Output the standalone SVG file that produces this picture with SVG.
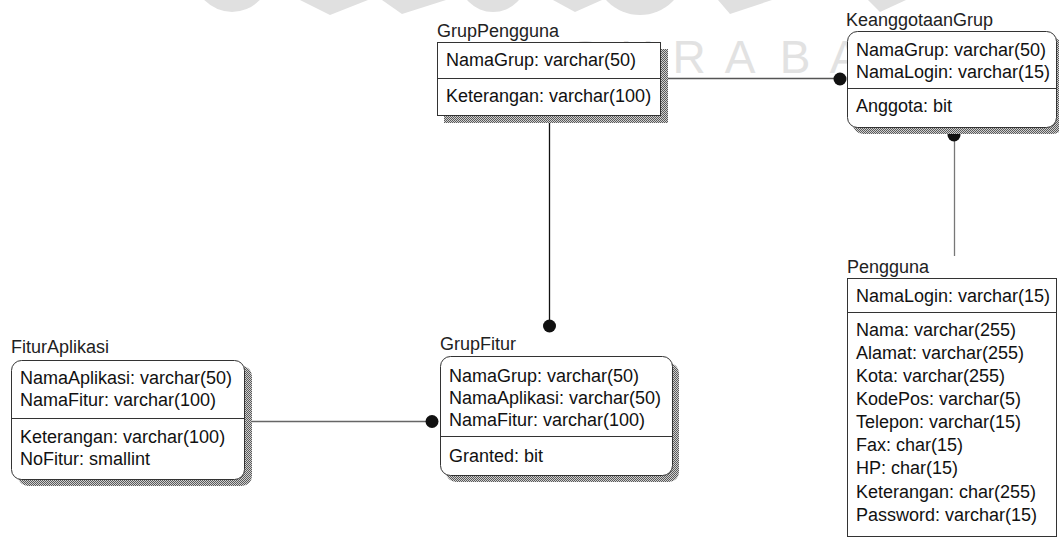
<svg xmlns="http://www.w3.org/2000/svg" width="1059" height="538" viewBox="0 0 1059 538">
<defs>
<pattern id="dither" width="2" height="2" patternUnits="userSpaceOnUse">
<rect width="2" height="2" fill="#d0d0d0"/>
<rect width="1" height="1" fill="#5a5a5a"/>
<rect x="1" y="1" width="1" height="1" fill="#5a5a5a"/>
</pattern>
</defs>
<style>
text{font-family:"Liberation Sans",Arial,sans-serif;font-size:18px;fill:#111}
.title{fill:#222}
.box{fill:#fff;stroke:#333;stroke-width:1}
.shadow{fill:url(#dither)}
.div{stroke:#333;stroke-width:1}
.wm{font-family:"Liberation Sans",Arial,sans-serif;font-size:46px;fill:#e2e2e2;text-anchor:middle}
.wms{fill:#e0e0e0}
.conn{fill:none;stroke-width:1.3}
.dot{fill:#111}
</style>
<rect width="1059" height="538" fill="#fff"/>
<g id="watermark">
<circle class="wms" cx="232" cy="-26" r="38"/>
<polygon class="wms" points="300,0 368,0 330,15"/>
<polygon class="wms" points="382,0 446,0 402,14"/>
<circle class="wms" cx="493" cy="-22" r="34"/>
<polygon class="wms" points="553,0 602,0 575,12"/>
<circle class="wms" cx="640" cy="-31" r="46"/>
<polygon class="wms" points="718,0 772,0 730,14"/>
<polygon class="wms" points="868,0 906,0 880,12"/>
<text class="wm" x="585" y="73">S</text>
<text class="wm" x="637" y="73">U</text>
<text class="wm" x="689" y="73">R</text>
<text class="wm" x="740" y="73">A</text>
<text class="wm" x="795" y="73">B</text>
<text class="wm" x="845" y="73">A</text>
<text class="wm" x="897" y="73">Y</text>
<text class="wm" x="950" y="73">A</text>
</g>
<g id="connectors">
<line class="conn" x1="661" y1="78.5" x2="839" y2="78.5" stroke="#555"/>
<circle class="dot" cx="840" cy="79" r="6.5"/>
<line class="conn" x1="549.5" y1="116" x2="549.5" y2="326" stroke="#111"/>
<circle class="dot" cx="549.5" cy="326" r="6.5"/>
<line class="conn" x1="954.5" y1="135" x2="954.5" y2="256" stroke="#777"/>
<circle class="dot" cx="954" cy="135" r="6.5"/>
<line class="conn" x1="244" y1="421.5" x2="432" y2="421.5" stroke="#666"/>
<circle class="dot" cx="432" cy="421.5" r="6.5"/>
</g>
<g id="GrupPengguna">
<text class="title" x="437" y="37">GrupPengguna</text>
<rect class="shadow" x="444" y="49" width="224" height="74"/>
<rect class="box" x="437.5" y="42.5" width="223" height="73"/>
<line class="div" x1="437.5" y1="78.5" x2="660.5" y2="78.5"/>
<text x="446" y="66">NamaGrup: varchar(50)</text>
<text x="446" y="102">Keterangan: varchar(100)</text>
</g>
<g id="KeanggotaanGrup">
<text class="title" x="846" y="26">KeanggotaanGrup</text>
<rect class="shadow" x="853" y="38" width="210" height="96" rx="10"/>
<rect class="box" x="847.5" y="31.5" width="209" height="96" rx="10"/>
<line class="div" x1="847.5" y1="88.5" x2="1056.5" y2="88.5"/>
<text x="856" y="56">NamaGrup: varchar(50)</text>
<text x="856" y="78">NamaLogin: varchar(15)</text>
<text x="856" y="112">Anggota: bit</text>
</g>
<g id="Pengguna">
<text class="title" x="847" y="273">Pengguna</text>
<rect class="box" x="847.5" y="278.5" width="209" height="258"/>
<line class="div" x1="847.5" y1="312.5" x2="1056.5" y2="312.5"/>
<text x="856" y="302">NamaLogin: varchar(15)</text>
<text x="856" y="336">Nama: varchar(255)</text>
<text x="856" y="359">Alamat: varchar(255)</text>
<text x="856" y="382">Kota: varchar(255)</text>
<text x="856" y="405">KodePos: varchar(5)</text>
<text x="856" y="428">Telepon: varchar(15)</text>
<text x="856" y="451">Fax: char(15)</text>
<text x="856" y="474">HP: char(15)</text>
<text x="856" y="498">Keterangan: char(255)</text>
<text x="856" y="521">Password: varchar(15)</text>
</g>
<g id="GrupFitur">
<text class="title" x="440" y="350">GrupFitur</text>
<rect class="shadow" x="446" y="363" width="233" height="119" rx="10"/>
<rect class="box" x="440.5" y="356.5" width="232" height="119" rx="10"/>
<line class="div" x1="440.5" y1="436.5" x2="672.5" y2="436.5"/>
<text x="449" y="382">NamaGrup: varchar(50)</text>
<text x="449" y="404">NamaAplikasi: varchar(50)</text>
<text x="449" y="426">NamaFitur: varchar(100)</text>
<text x="449" y="462">Granted: bit</text>
</g>
<g id="FiturAplikasi">
<text class="title" x="11" y="353">FiturAplikasi</text>
<rect class="shadow" x="18" y="366" width="234" height="120" rx="10"/>
<rect class="box" x="11.5" y="360.5" width="233" height="119" rx="10"/>
<line class="div" x1="11.5" y1="418.5" x2="244.5" y2="418.5"/>
<text x="20" y="384">NamaAplikasi: varchar(50)</text>
<text x="20" y="406">NamaFitur: varchar(100)</text>
<text x="20" y="443">Keterangan: varchar(100)</text>
<text x="20" y="465">NoFitur: smallint</text>
</g>
</svg>
